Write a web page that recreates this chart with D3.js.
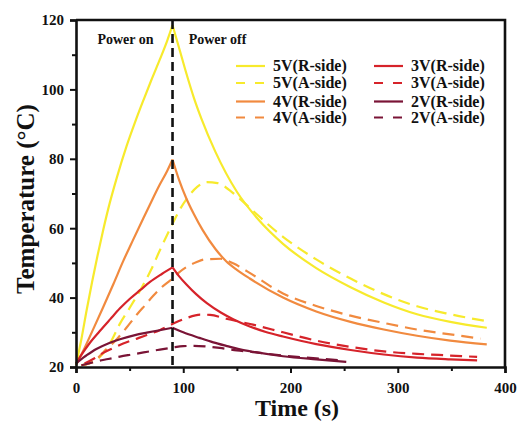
<!DOCTYPE html>
<html>
<head>
<meta charset="utf-8">
<script src="https://cdn.jsdelivr.net/npm/d3@7"></script>
<style>
  html, body { margin: 0; padding: 0; background: #fff; }
  svg { display: block; font-family: "Liberation Serif", "Times New Roman", serif; font-weight: bold; }
</style>
</head>
<body>
<div id="chart"></div>
<script>
// Values: [time (s), temperature (°C)]
const v5R = [[0,20.5],[5,28],[10,36.5],[15,44.5],[20,52],[25,59],[30,65.5],[38,74.5],[47,83.5],[55,90.5],[63,97],[70,102.5],[78,108.5],[85,114],[90,118.5],
  [97,111],[103,104.5],[110,97.5],[117,91.5],[130,82],[150,70.5],[170,62.5],[193,55.5],[224,48.5],[256,43],[287,38.6],[318,35.2],[349,33],[383,31.3]];
const v5A = [[5,20.5],[12,21],[22,22.8],[32,27],[41,32.5],[50,37],[60,42.2],[70,48],[78,53.5],[88,60],[97,65.5],[105,69.2],[113,71.9],[122,73.3],[132,73],
  [147,70],[165,65],[193,57.5],[224,51],[256,45.5],[287,41],[318,37.5],[349,35.2],[383,33.2]];
const v4R = [[0,20.5],[7,24.8],[15,30.2],[25,37],[35,44],[44,50.5],[53,56.5],[63,63],[70,67.5],[78,72.5],[85,76.5],[90,79.8],
  [96,74],[103,68.5],[110,64],[118,59.5],[130,54],[140,50.5],[150,48],[162,45.5],[193,40],[224,36],[256,33],[287,30.8],[318,29],[349,27.6],[383,26.5]];
const v4A = [[5,20.5],[12,21],[18,22],[28,25],[38,28],[47,31.3],[57,35.2],[65,38],[72,40.5],[80,43],[88,45],[95,47],[103,48.8],[112,50.2],[120,51],
  [135,51.2],[147,49.8],[160,47.5],[193,41.2],[224,37.6],[256,34.8],[287,32.7],[318,30.8],[349,29.4],[377,28.2]];
const v3R = [[0,21],[5,23.5],[13,27],[22,30.3],[32,33.8],[41,36.9],[50,39.6],[60,42.2],[69,44.5],[80,46.8],[90,48.7],
  [96,46.2],[103,43.8],[112,41],[122,38.4],[135,35.7],[147,33.7],[162,31.7],[177,30.1],[193,28.8],[224,26.6],[256,24.9],[287,23.6],[318,22.7],[349,22.2],[374,21.9]];
const v3A = [[8,21],[16,22.3],[25,24],[35,25.5],[44,26.8],[55,28],[66,29.2],[78,30.6],[90,32.4],[103,34.1],[116,35.1],[125,35],[140,33.9],
  [165,32.2],[193,30],[224,27.6],[256,25.8],[287,24.5],[318,23.8],[349,23.3],[374,22.9]];
const v2R = [[0,21],[5,22.3],[10,23.4],[19,25.2],[30,26.8],[41,28],[55,29.2],[66,29.9],[78,30.6],[90,31.3],
  [100,30],[115,28.4],[128,27.1],[140,26.1],[153,25.1],[165,24.4],[193,23.1],[224,22.2],[252,21.5]];
const v2A = [[5,20.5],[12,21],[19,21.6],[30,22.3],[41,23],[52,23.6],[63,24.2],[76,24.9],[90,25.6],[100,26],[110,26.1],[122,25.9],[134,25.5],
  [150,24.8],[165,24.3],[193,23.3],[224,22.5],[250,21.8]];

const seriesNames = ["5V(R-side)", "5V(A-side)", "4V(R-side)", "4V(A-side)", "3V(R-side)", "3V(A-side)", "2V(R-side)", "2V(A-side)"];
const seriesValues = [v5R, v5A, v4R, v4A, v3R, v3A, v2R, v2A];
const seriesColors = ["#f7ea2c", "#f7ea2c", "#f18a3f", "#f18a3f", "#d6232a", "#d6232a", "#7a1436", "#7a1436"];
const seriesDashed = [false, true, false, true, false, true, false, true];

const xTicks = [0, 100, 200, 300, 400];
const yTicks = [20, 40, 60, 80, 100, 120];
const powerOffTime = 90;

const width = 518, height = 421;
const margin = { top: 20, right: 13, bottom: 54, left: 76 };
const innerW = width - margin.left - margin.right;
const innerH = height - margin.top - margin.bottom;
const serif = "'Liberation Serif', 'Times New Roman', serif";

const svg = d3.select("#chart").append("svg")
  .attr("width", width)
  .attr("height", height)
  .attr("viewBox", [0, 0, width, height]);

const g = svg.append("g").attr("transform", `translate(${margin.left},${margin.top})`);

const x = d3.scaleLinear().domain([0, 400]).range([0, innerW]);
const y = d3.scaleLinear().domain([20, 120]).range([innerH, 0]);

const line = d3.line()
  .x(d => x(d[0]))
  .y(d => y(d[1]))
  .curve(d3.curveMonotoneX);

// R-side curves have a sharp peak when power goes off, so draw the two halves separately
seriesValues.forEach((vals, i) => {
  const parts = seriesDashed[i]
    ? [vals]
    : [vals.filter(d => d[0] <= powerOffTime), vals.filter(d => d[0] >= powerOffTime)];
  parts.forEach(p => {
    g.append("path")
      .datum(p)
      .attr("fill", "none")
      .attr("stroke", seriesColors[i])
      .attr("stroke-width", 2.2)
      .attr("stroke-linejoin", "round")
      .attr("stroke-dasharray", seriesDashed[i] ? "12,7" : null)
      .attr("d", line);
  });
});

// power-off marker
g.append("line")
  .attr("x1", x(powerOffTime)).attr("x2", x(powerOffTime))
  .attr("y1", 0).attr("y2", innerH)
  .attr("stroke", "#111")
  .attr("stroke-width", 2.6)
  .attr("stroke-dasharray", "9,5");

g.append("text").attr("x", x(powerOffTime) - 47).attr("y", 24)
  .attr("text-anchor", "middle").style("font-size", "14px").attr("fill", "#111").text("Power on");
g.append("text").attr("x", x(powerOffTime) + 45).attr("y", 24)
  .attr("text-anchor", "middle").style("font-size", "14px").attr("fill", "#111").text("Power off");

// axes
const xAxis = g.append("g")
  .attr("transform", `translate(0,${innerH})`)
  .call(d3.axisBottom(x).tickValues(xTicks).tickFormat(d3.format("d")).tickSize(6).tickPadding(9));
g.append("g")
  .attr("transform", `translate(0,${innerH})`)
  .call(d3.axisBottom(x).tickValues(d3.range(50, 400, 100)).tickFormat("").tickSize(4))
  .call(a => a.select(".domain").remove());

const yAxis = g.append("g")
  .call(d3.axisLeft(y).tickValues(yTicks).tickFormat(d3.format("d")).tickSize(6).tickPadding(6));
g.append("g")
  .call(d3.axisLeft(y).tickValues(d3.range(30, 120, 20)).tickFormat("").tickSize(4))
  .call(a => a.select(".domain").remove());

[xAxis, yAxis].forEach(a => {
  a.attr("font-family", serif).attr("font-weight", "bold");
  a.selectAll("text")
    .style("font-family", serif)
    .style("font-weight", "bold")
    .style("font-size", "15px")
    .attr("fill", "#111");
});
g.selectAll(".tick line").attr("stroke", "#111").attr("stroke-width", 2);
g.selectAll(".domain").attr("stroke", "#111").attr("stroke-width", 2.6);

// frame top and right
g.append("path")
  .attr("d", `M0,0H${innerW}V${innerH}`)
  .attr("fill", "none")
  .attr("stroke", "#111")
  .attr("stroke-width", 2.6);

// axis titles
svg.append("text")
  .attr("x", 297)
  .attr("y", 416)
  .attr("text-anchor", "middle")
  .style("font-size", "24px")
  .attr("fill", "#111")
  .text("Time (s)");

svg.append("text")
  .attr("transform", `translate(34,199) rotate(-90)`)
  .attr("text-anchor", "middle")
  .style("font-size", "25px")
  .attr("fill", "#111")
  .text("Temperature (°C)");

// legend: two columns of four rows
const legendCols = [236, 374];
const legendRows = [66, 83, 101.5, 117.5];
seriesNames.forEach((name, i) => {
  const col = Math.floor(i / 4), row = i % 4;
  const lx = legendCols[col], ly = legendRows[row];
  svg.append("line")
    .attr("x1", lx).attr("x2", lx + 29)
    .attr("y1", ly).attr("y2", ly)
    .attr("stroke", seriesColors[i])
    .attr("stroke-width", 2.2)
    .attr("stroke-dasharray", seriesDashed[i] ? "9,10" : null);
  svg.append("text")
    .attr("x", lx + 37).attr("y", ly + 5)
    .style("font-size", "16px")
    .attr("fill", "#111")
    .text(name);
});
</script>
</body>
</html>
